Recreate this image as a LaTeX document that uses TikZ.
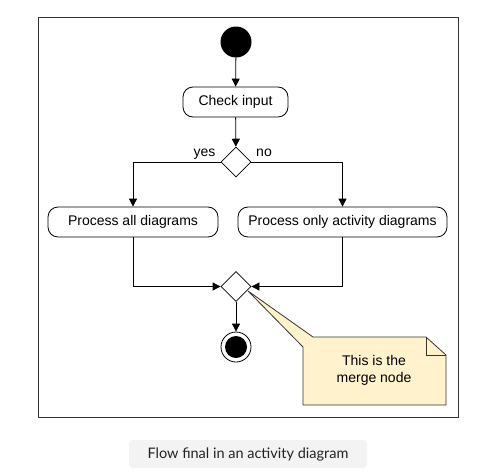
\documentclass[tikz,border=0pt]{standalone}
\usepackage{fontspec}
\setmainfont{Liberation Sans}
\newfontfamily\capfont{Lato}
\usetikzlibrary{shapes.geometric,arrows.meta}
\definecolor{notefill}{HTML}{FFF2CC}
\definecolor{notedraw}{HTML}{36362E}
\definecolor{capfill}{HTML}{F3F3F3}
\definecolor{captext}{HTML}{222222}
\definecolor{framecol}{HTML}{333333}
\tikzset{
  act/.style={draw=black, line width=0.8pt, rounded corners=10pt, minimum height=30pt, inner sep=0pt, font=\fontsize{14}{16}\selectfont, fill=white},
  decide/.style={draw=black, line width=0.8pt, diamond, minimum width=30pt, minimum height=30pt, inner sep=0pt, fill=white},
  arr/.style={draw=black, line width=0.8pt, -{Triangle[length=8pt,width=8pt]}},
  lbl/.style={font=\fontsize{14}{16}\selectfont, inner sep=0pt, anchor=base},
}
\begin{document}
\begin{tikzpicture}[x=1pt,y=-1pt]
\useasboundingbox[fill=white] (0,0) rectangle (489,474);
% frame
\draw[framecol, line width=1pt] (38,17) rectangle (458,417);
% note (callout)
\draw[notedraw, fill=notefill, line width=0.8pt] (313,337) -- (426,337) -- (446,355) -- (446,405) -- (303,405) -- (303,347) -- (248,291) -- cycle;
\draw[notedraw, line width=0.8pt] (426,337) -- (426,355) -- (446,355);
\node[lbl, anchor=center, align=center, font=\fontsize{14}{17}\selectfont] (note) at (374,370) {This is the\\merge node};
% nodes
\node[circle, fill=black, minimum size=31pt, inner sep=0pt] (start) at (236,42) {};
\node[act, minimum width=105pt] (check) at (235.5,102) {Check input};
\node[decide] (dec) at (236,162) {};
\node[act, minimum width=170pt] (pall) at (133,222) {Process all diagrams};
\node[act, minimum width=209pt] (ponly) at (342.5,222) {Process only activity diagrams};
\node[decide] (merge) at (236,286.5) {};
\node[circle, draw=black, line width=0.8pt, fill=white, minimum size=30pt, inner sep=0pt] (final) at (236,347) {};
\node[circle, fill=black, minimum size=22pt, inner sep=0pt] (finaldot) at (final.center) {};
\node[lbl] (yes) at (204.5,156) {yes};
\node[lbl] (no) at (264,156) {no};
% connectors
\draw[arr] (start) -- (check);
\draw[arr] (check) -- (dec);
\draw[arr] (dec.west) -| (pall.north);
\draw[arr] (dec.east) -| (ponly.north);
\draw[arr] (pall.south) |- (merge.west);
\draw[arr] (ponly.south) |- (merge.east);
\draw[arr] (merge) -- (final);
% caption
\fill[capfill, rounded corners=4pt] (129,440) rectangle (367,468);
\node[font=\capfont\fontsize{14.5}{16}\selectfont, text=captext, inner sep=0pt] (cap) at (248,454) {Flow final in an activity diagram};
\end{tikzpicture}
\end{document}
